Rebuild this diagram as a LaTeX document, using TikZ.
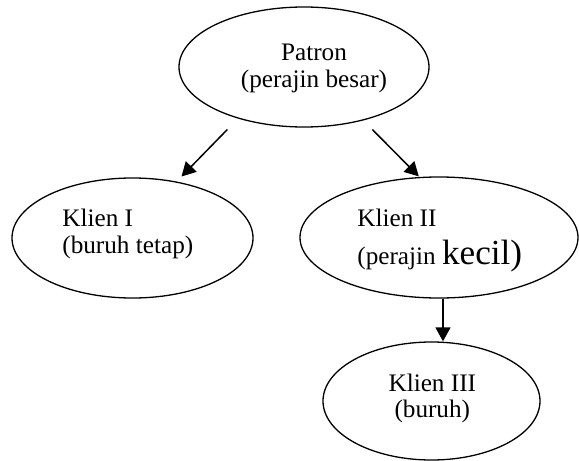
\documentclass[tikz,border=0pt]{standalone}
\usepackage{fontspec}
\setmainfont{Liberation Serif}
\usepackage{tikz}
\usetikzlibrary{shapes.geometric, arrows.meta}

\begin{document}
\begin{tikzpicture}[
  x=0.5pt, y=-0.5pt,
  bubble/.style={
    ellipse,
    draw=black,
    line width=0.65pt,
    inner sep=0pt
  },
  caption/.style={
    inner sep=0pt,
    font=\fontsize{12.6}{13.3}\selectfont
  },
  link/.style={
    line width=0.75pt,
    -{Triangle[length=7pt, width=7.5pt]}
  }
]
  \useasboundingbox (0,0) rectangle (579,461);

  % Ellipses - placed by hand
  \node[bubble, minimum width=125pt, minimum height=60pt] (patron) at (304,67) {};
  \node[bubble, minimum width=120.5pt, minimum height=60pt] (klien1) at (132.5,238) {};
  \node[bubble, minimum width=139pt, minimum height=60.5pt] (klien2) at (439,237.5) {};
  \node[bubble, minimum width=108.5pt, minimum height=59pt] (klien3) at (431.5,401) {};

  % Texts inside the ellipses
  \node[caption, align=center] (patron-text) at (314,68.4) {Patron\\(perajin besar)};
  \node[caption, align=left, anchor=west] (klien1-text) at (62,234.1) {Klien I\\(buruh tetap)};
  \node[caption, align=left, anchor=west] (klien2-text) at (357,240.6)
    {Klien II\\[5.5pt](perajin {\fontsize{17.6}{19}\selectfont kecil)}};
  \node[caption, align=center] (klien3-text) at (432.3,398.6) {Klien III\\(buruh)};

  % Arrows
  \draw[link, shorten <=7.6pt, shorten >=3.5pt] (patron.218) -- (klien1.52);
  \draw[link, shorten <=6.4pt, shorten >=0.4pt] (patron.318) -- (klien2.108);
  \coordinate (drop) at ([xshift=2pt]klien2.south);
  \draw[link] (drop) -- (drop |- klien3.north);
\end{tikzpicture}
\end{document}
